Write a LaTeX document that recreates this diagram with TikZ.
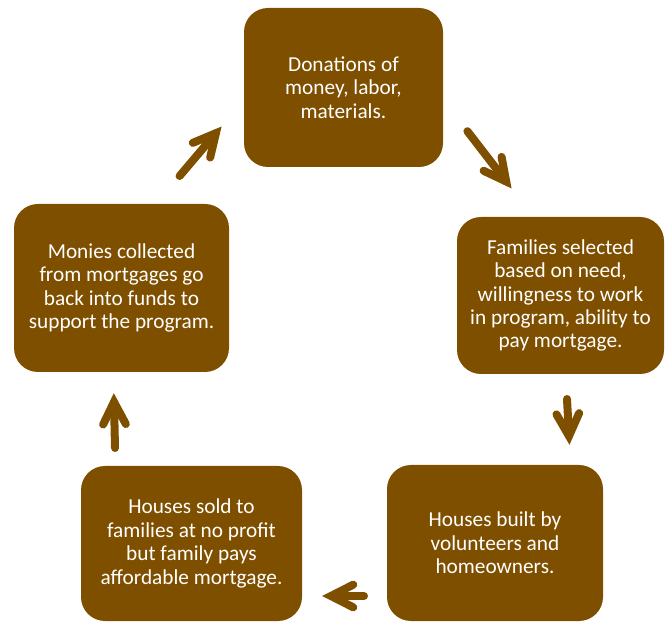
\documentclass[tikz,border=0pt]{standalone}
\usepackage{fontspec}
\setmainfont{Carlito}
\usetikzlibrary{calc}
\definecolor{habitat}{RGB}{127,79,0}
\tikzset{
  stage/.style={draw=none, fill=habitat, rounded corners=24pt, text=white,
    align=center, inner sep=0pt,
    font=\fontsize{21.3pt}{23.4pt}\selectfont},
  flow/.style={draw=habitat, line width=8pt, line cap=round, line join=miter},
}
% a thick shaft with an open chevron head at its end point
\newcommand\chevronarrow[2]{%
  \draw[flow] (#1) -- (#2);
  \draw[flow] ($(#2)!25pt!27:(#1)$) -- (#2) -- ($(#2)!25pt!-27:(#1)$);
}
\begin{document}
\begin{tikzpicture}[x=1pt,y=-1pt]
  \useasboundingbox (0,0) rectangle (670,628);

  \node[stage, minimum width=199pt, minimum height=159pt] (donate) at (343.5,87.5)
    {Donations of\\money, labor,\\materials.};
  \node[stage, minimum width=207pt, minimum height=157pt] (select) at (560.5,295.5)
    {Families selected\\based on need,\\willingness to work\\in program, ability to\\pay mortgage.};
  \node[stage, minimum width=216pt, minimum height=156pt] (build) at (495,543)
    {Houses built by\\volunteers and\\homeowners.};
  \node[stage, minimum width=221pt, minimum height=155pt] (sell) at (191.5,543.5)
    {Houses sold to\\families at no profit\\but family pays\\affordable mortgage.};
  \node[stage, minimum width=215pt, minimum height=168pt] (fund) at (121.5,288)
    {Monies collected\\from mortgages go\\back into funds to\\support the program.};

  % arrow end points between neighbouring stages
  \coordinate (a1s) at (179.6,176);   \coordinate (a1e) at (215.9,133.2);
  \coordinate (a2s) at (467.4,131.2); \coordinate (a2e) at (506.2,181.5);
  \coordinate (a3s) at (567,399);     \coordinate (a3e) at (569,436);
  \coordinate (a4s) at (364,596);     \coordinate (a4e) at (331,596);
  \coordinate (a5s) at (115,448);     \coordinate (a5e) at (114,402);

  \chevronarrow{a1s}{a1e}
  \chevronarrow{a2s}{a2e}
  \chevronarrow{a3s}{a3e}
  \chevronarrow{a4s}{a4e}
  \chevronarrow{a5s}{a5e}
\end{tikzpicture}
\end{document}
